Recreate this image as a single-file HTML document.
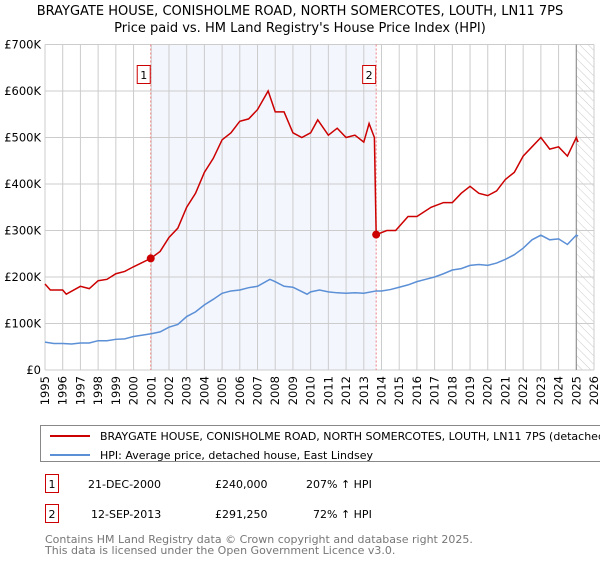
<!DOCTYPE html>
<html><head><meta charset="utf-8"><style>
body{margin:0;background:#fff;font-family:"DejaVu Sans","Liberation Sans",sans-serif;}
svg text{font-family:"DejaVu Sans","Liberation Sans",sans-serif;}
</style></head><body>
<svg id="chart" width="600" height="560" xmlns="http://www.w3.org/2000/svg">
<defs><pattern id="hatch" width="6" height="6" patternUnits="userSpaceOnUse" patternTransform="rotate(-45)"><line x1="0" y1="0" x2="0" y2="6" stroke="#ccc" stroke-width="1"/></pattern></defs>
<text x="300" y="15" text-anchor="middle" font-size="13">BRAYGATE HOUSE, CONISHOLME ROAD, NORTH SOMERCOTES, LOUTH, LN11 7PS</text>
<text x="300" y="32" text-anchor="middle" font-size="13">Price paid vs. HM Land Registry's House Price Index (HPI)</text>
<g id="plot"></g>
<rect x="40.5" y="425.5" width="580" height="36" fill="#fff" stroke="#888"/>
<line x1="50" y1="436" x2="90" y2="436" stroke="#cc0000" stroke-width="2"/>
<text x="100" y="440" font-size="11">BRAYGATE HOUSE, CONISHOLME ROAD, NORTH SOMERCOTES, LOUTH, LN11 7PS (detached house)</text>
<line x1="50" y1="455" x2="90" y2="455" stroke="#5b8fd6" stroke-width="2"/>
<text x="100" y="459" font-size="11">HPI: Average price, detached house, East Lindsey</text>
<rect x="45.5" y="474.5" width="13" height="18" fill="#fff" stroke="#cc0000"/>
<text x="52" y="488" text-anchor="middle" font-size="11">1</text>
<text x="88" y="488" font-size="11">21-DEC-2000</text>
<text x="215" y="488" font-size="11">£240,000</text>
<text x="306" y="488" font-size="11">207% ↑ HPI</text>
<rect x="45.5" y="504.5" width="13" height="18" fill="#fff" stroke="#cc0000"/>
<text x="52" y="518" text-anchor="middle" font-size="11">2</text>
<text x="91" y="518" font-size="11">12-SEP-2013</text>
<text x="215" y="518" font-size="11">£291,250</text>
<text x="313" y="518" font-size="11">72% ↑ HPI</text>
<text x="45" y="543" font-size="11" fill="#777">Contains HM Land Registry data © Crown copyright and database right 2025.</text>
<text x="45" y="554" font-size="11" fill="#777">This data is licensed under the Open Government Licence v3.0.</text>
</svg>
<script>
const hpiYears=[1995,1995.5,1996,1996.5,1997,1997.5,1998,1998.5,1999,1999.5,2000,2000.5,2001,2001.5,2002,2002.5,2003,2003.5,2004,2004.5,2005,2005.5,2006,2006.5,2007,2007.7,2008,2008.5,2009,2009.8,2010,2010.5,2011,2011.5,2012,2012.5,2013,2013.7,2014,2014.5,2015,2015.5,2016,2016.5,2017,2017.5,2018,2018.5,2019,2019.5,2020,2020.5,2021,2021.5,2022,2022.5,2023,2023.5,2024,2024.5,2025,2025.1];
const hpiValues=[60,57,57,56,58,58,63,63,66,67,72,75,78,82,92,98,115,125,140,152,165,170,172,177,180,195,190,180,178,163,168,172,168,166,165,166,165,170,170,173,178,183,190,195,200,207,215,218,225,227,225,230,238,248,262,280,290,280,282,270,290,288];
const redYears=[1995,1995.3,1996,1996.2,1997,1997.5,1998,1998.5,1999,1999.5,2000,2000.97,2001.5,2002,2002.5,2003,2003.5,2004,2004.5,2005,2005.5,2006,2006.5,2007,2007.6,2008,2008.5,2009,2009.5,2010,2010.4,2011,2011.5,2012,2012.5,2013,2013.3,2013.6,2013.7,2014.3,2014.8,2015.5,2016,2016.8,2017.5,2018,2018.5,2019,2019.5,2020,2020.5,2021,2021.5,2022,2022.5,2023,2023.5,2024,2024.5,2025,2025.1];
const redValues=[185,172,172,163,180,175,192,195,207,212,222,240,255,285,305,350,380,425,455,495,510,535,540,560,600,555,555,510,500,510,538,505,520,500,505,490,530,500,291,300,300,330,330,350,360,360,380,395,380,375,385,410,425,460,480,500,475,480,460,500,490];
const saleYears=[2000.97,2013.7];
const saleValues=[240,291.25];
const saleLabels=["1","2"];
const yTicks=[0,100,200,300,400,500,600,700];
const yTickLabels=["£0","£100K","£200K","£300K","£400K","£500K","£600K","£700K"];
const xTicks=[];for(let y=1995;y<=2026;y++)xTicks.push(y);
const X0=45,X1=594,Y0=370,Y1=44.5;
const xs=v=>X0+(v-1995)/(2026-1995)*(X1-X0);
const ys=v=>Y0-v/700*(Y0-Y1);
const NS="http://www.w3.org/2000/svg",g=document.getElementById('plot');
function mk(t,a){const e=document.createElementNS(NS,t);for(const k in a)e.setAttribute(k,a[k]);g.appendChild(e);return e;}
let e;
e=mk('rect',{x:xs(saleYears[0]),y:Y1,width:xs(saleYears[1])-xs(saleYears[0]),height:Y0-Y1,fill:'#f3f6fd'});


e=mk('rect',{x:xs(2025),y:Y1,width:X1-xs(2025),height:Y0-Y1,fill:'url(#hatch)'});


xTicks.forEach(t=>{e=mk('line',{x1:xs(t),x2:xs(t),y1:Y1,y2:Y0,stroke:'#ccc'});


e=mk('text',{x:0,y:0,'font-size':11.5,'text-anchor':'end',transform:`translate(${xs(t)+4},${Y0+6}) rotate(-90)`});e.textContent=t;

});
yTicks.forEach((t,i)=>{e=mk('line',{x1:X0,x2:X1,y1:ys(t),y2:ys(t),stroke:'#ccc'});


e=mk('text',{x:X0-4,y:ys(t)+4,'font-size':11.5,'text-anchor':'end'});e.textContent=yTickLabels[i];

});
e=mk('line',{x1:xs(2025),x2:xs(2025),y1:Y1,y2:Y0,stroke:'#888'});


saleYears.forEach((s,i)=>{e=mk('line',{x1:xs(s),x2:xs(s),y1:Y1,y2:Y0,stroke:'#f08080','stroke-dasharray':'2,2'});


e=mk('rect',{x:xs(s)-13.5,y:65.5,width:13,height:18,fill:'#fff',stroke:'#cc0000'});


e=mk('text',{x:xs(s)-7,y:79,'font-size':11,'text-anchor':'middle'});e.textContent=saleLabels[i];

});
e=mk('polyline',{points:hpiYears.map((y,i)=>xs(y)+','+ys(hpiValues[i])).join(' '),fill:'none',stroke:'#5b8fd6','stroke-width':1.5});


e=mk('polyline',{points:redYears.map((y,i)=>xs(y)+','+ys(redValues[i])).join(' '),fill:'none',stroke:'#cc0000','stroke-width':1.5});


saleYears.forEach((s,i)=>{e=mk('circle',{cx:xs(s),cy:ys(saleValues[i]),r:4,fill:'#cc0000'});

});
</script>
</body></html>
